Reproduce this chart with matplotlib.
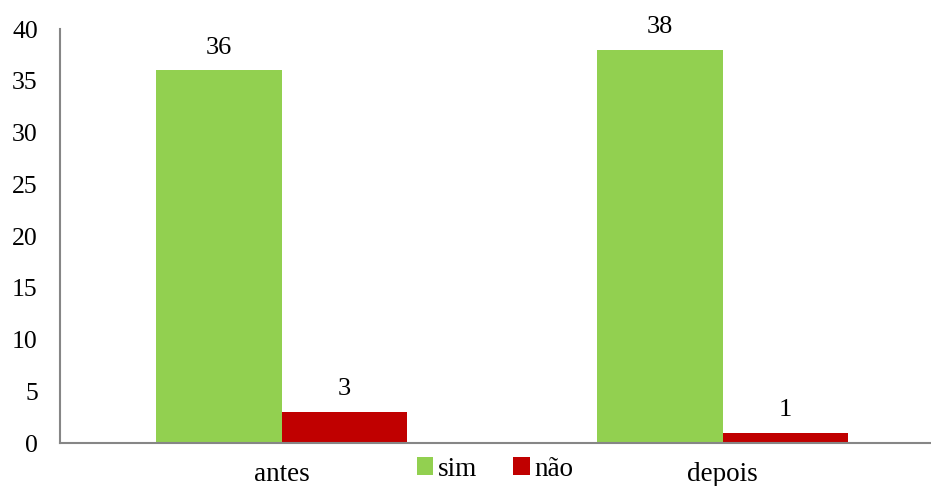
import matplotlib
matplotlib.use("Agg")
import matplotlib.pyplot as plt
import numpy as np

categories = ["antes", "depois"]
series_names = ["sim", "não"]
sim = [36, 38]
nao = [3, 1]
yticks = [0, 5, 10, 15, 20, 25, 30, 35, 40]

plt.rcParams['font.family'] = ['Liberation Serif', 'DejaVu Serif']

fig = plt.figure(figsize=(9.31, 4.86), dpi=100)
ax = fig.add_axes([60/931, 1 - 443/486, 871/931, (443-29)/486])

x = np.arange(len(categories))
w = 0.285
b1 = ax.bar(x - w/2, sim, w, color="#92D050", label=series_names[0])
b2 = ax.bar(x + w/2, nao, w, color="#C00000", label=series_names[1])

for bars, vals in ((b1, sim), (b2, nao)):
    for r, v in zip(bars, vals):
        ax.text(r.get_x() + r.get_width()/2, v + 1.6, str(v), ha="center", va="baseline", fontsize=19)

ax.set_ylim(0, 40)
ax.set_xlim(-0.503, 1.473)
ax.set_yticks(yticks)
ax.set_yticklabels([str(t) for t in yticks], fontsize=18.5)
ax.set_xticks(x)
ax.set_xticklabels(categories, fontsize=19.5)
ax.tick_params(axis="both", length=0)
ax.tick_params(axis="y", pad=16)
ax.tick_params(axis="x", pad=14)
for s in ("top", "right"):
    ax.spines[s].set_visible(False)
for s in ("left", "bottom"):
    ax.spines[s].set_color("#868686")
    ax.spines[s].set_linewidth(1.5)

leg = fig.legend(loc="center", bbox_to_anchor=(495/931, 1 - 469/486), ncol=2, frameon=False,
                 fontsize=19.5, handlelength=0.6, handleheight=0.6, handletextpad=0.18, columnspacing=1.34)

fig.savefig("out.png", dpi=100)
